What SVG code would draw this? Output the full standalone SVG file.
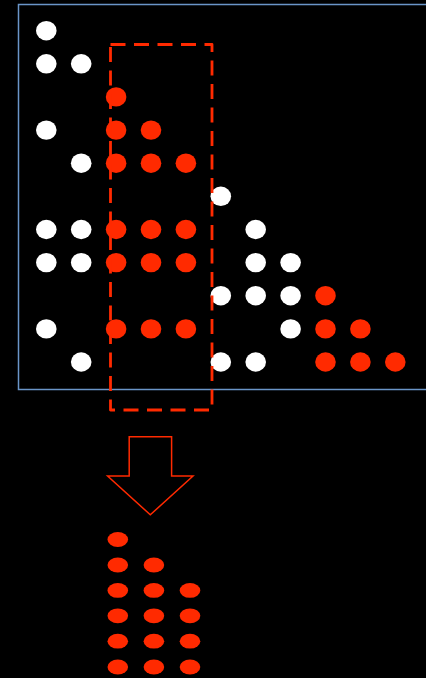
<svg xmlns="http://www.w3.org/2000/svg" width="426" height="678" viewBox="0 0 426 678">
  <style>
    .w { fill: #ffffff; }
    .r { fill: #ff2a00; }
    .frame { fill: none; stroke: #6a95c8; stroke-width: 1.5; }
    .sel { fill: none; stroke: #ff2a00; stroke-width: 2.8; stroke-dasharray: 15 8.5; stroke-linejoin: round; }
    .arrow { fill: none; stroke: #ff2a00; stroke-width: 1.5; stroke-linejoin: miter; }
  </style>
  <defs>
    <ellipse id="dot" cx="0" cy="0" rx="10.3" ry="9.7"/>
    <ellipse id="sdot" cx="0" cy="0" rx="10.3" ry="7.4"/>
  </defs>
  <rect x="0" y="0" width="426" height="678" fill="#000000"/>

  <!-- outer frame -->
  <rect class="frame" x="18.5" y="4.5" width="420" height="385"/>

  <!-- triangular grid of dots (columns 35px apart, rows ~33px apart) -->
  <g id="grid">
    <!-- row 0 -->
    <use href="#dot" class="w" x="46.3" y="30.7"/>
    <!-- row 1 -->
    <use href="#dot" class="w" x="46.3" y="63.8"/>
    <use href="#dot" class="w" x="81.2" y="63.8"/>
    <!-- row 2 -->
    <use href="#dot" class="r" x="116.1" y="96.9"/>
    <!-- row 3 -->
    <use href="#dot" class="w" x="46.3" y="130.1"/>
    <use href="#dot" class="r" x="116.1" y="130.1"/>
    <use href="#dot" class="r" x="151" y="130.1"/>
    <!-- row 4 -->
    <use href="#dot" class="w" x="81.2" y="163.2"/>
    <use href="#dot" class="r" x="116.1" y="163.2"/>
    <use href="#dot" class="r" x="151" y="163.2"/>
    <use href="#dot" class="r" x="185.9" y="163.2"/>
    <!-- row 5 -->
    <use href="#dot" class="w" x="220.8" y="196.3"/>
    <!-- row 6 -->
    <use href="#dot" class="w" x="46.3" y="229.5"/>
    <use href="#dot" class="w" x="81.2" y="229.5"/>
    <use href="#dot" class="r" x="116.1" y="229.5"/>
    <use href="#dot" class="r" x="151" y="229.5"/>
    <use href="#dot" class="r" x="185.9" y="229.5"/>
    <use href="#dot" class="w" x="255.7" y="229.5"/>
    <!-- row 7 -->
    <use href="#dot" class="w" x="46.3" y="262.6"/>
    <use href="#dot" class="w" x="81.2" y="262.6"/>
    <use href="#dot" class="r" x="116.1" y="262.6"/>
    <use href="#dot" class="r" x="151" y="262.6"/>
    <use href="#dot" class="r" x="185.9" y="262.6"/>
    <use href="#dot" class="w" x="255.7" y="262.6"/>
    <use href="#dot" class="w" x="290.6" y="262.6"/>
    <!-- row 8 -->
    <use href="#dot" class="w" x="220.8" y="295.7"/>
    <use href="#dot" class="w" x="255.7" y="295.7"/>
    <use href="#dot" class="w" x="290.6" y="295.7"/>
    <use href="#dot" class="r" x="325.5" y="295.7"/>
    <!-- row 9 -->
    <use href="#dot" class="w" x="46.3" y="328.9"/>
    <use href="#dot" class="r" x="116.1" y="328.9"/>
    <use href="#dot" class="r" x="151" y="328.9"/>
    <use href="#dot" class="r" x="185.9" y="328.9"/>
    <use href="#dot" class="w" x="290.6" y="328.9"/>
    <use href="#dot" class="r" x="325.5" y="328.9"/>
    <use href="#dot" class="r" x="360.4" y="328.9"/>
    <!-- row 10 -->
    <use href="#dot" class="w" x="81.2" y="362"/>
    <use href="#dot" class="w" x="220.8" y="362"/>
    <use href="#dot" class="w" x="255.7" y="362"/>
    <use href="#dot" class="r" x="325.5" y="362"/>
    <use href="#dot" class="r" x="360.4" y="362"/>
    <use href="#dot" class="r" x="395.3" y="362"/>
  </g>

  <!-- dashed selection around columns 2-4 -->
  <path id="selection" class="sel" d="M110.5 44.5 H212 V410 H110.5 Z"/>

  <!-- downward arrow -->
  <g id="connectors">
    <path class="arrow" d="M129.2 436.8 H171.6 V476 H193 L150.3 514.8 L107.6 476 H129.2 Z"/>
  </g>

  <!-- extracted selection, compacted -->
  <g id="result">
    <use href="#sdot" class="r" x="117.8" y="539.5"/>
    <use href="#sdot" class="r" x="117.8" y="565"/>
    <use href="#sdot" class="r" x="153.9" y="565"/>
    <use href="#sdot" class="r" x="117.8" y="590.4"/>
    <use href="#sdot" class="r" x="153.9" y="590.4"/>
    <use href="#sdot" class="r" x="190" y="590.4"/>
    <use href="#sdot" class="r" x="117.8" y="615.8"/>
    <use href="#sdot" class="r" x="153.9" y="615.8"/>
    <use href="#sdot" class="r" x="190" y="615.8"/>
    <use href="#sdot" class="r" x="117.8" y="641.2"/>
    <use href="#sdot" class="r" x="153.9" y="641.2"/>
    <use href="#sdot" class="r" x="190" y="641.2"/>
    <use href="#sdot" class="r" x="117.8" y="667"/>
    <use href="#sdot" class="r" x="153.9" y="667"/>
    <use href="#sdot" class="r" x="190" y="667"/>
  </g>
</svg>
